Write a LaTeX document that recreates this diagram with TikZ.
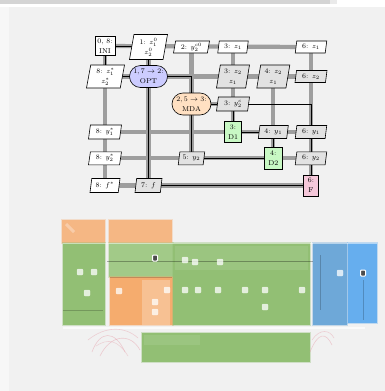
\documentclass[tikz,border=0pt]{standalone}
\usetikzlibrary{shapes.geometric,shapes.misc}
\definecolor{bgpanel}{HTML}{F1F1F1}
\definecolor{topbar}{HTML}{D4D4D4}
\definecolor{dline}{HTML}{9E9E9E}
\definecolor{dfill}{HTML}{E2E2E2}
\definecolor{optc}{HTML}{CCCCFF}
\definecolor{mdac}{HTML}{FFE0C2}
\definecolor{anc}{HTML}{C8F8C4}
\definecolor{func}{HTML}{F5C8DA}
\definecolor{bgreen}{HTML}{92BF74}
\definecolor{bgreenl}{HTML}{A2CA88}
\definecolor{borange}{HTML}{F5B784}
\definecolor{borange2}{HTML}{F5AC6E}
\definecolor{borange3}{HTML}{F7C193}
\definecolor{bblue}{HTML}{6EA8D8}
\definecolor{bblue2}{HTML}{66AEEE}
\definecolor{bpink}{HTML}{E59AA6}
\pgfdeclarelayer{bg}
\pgfdeclarelayer{lines}
\pgfsetlayers{bg,lines,main}
\begin{document}
\begin{tikzpicture}[x=1pt,y=-1pt,
  every node/.style={font=\fontsize{7}{10}\selectfont, align=center, inner sep=0.5pt},
  datain/.style={trapezium, trapezium left angle=77, trapezium right angle=103,
    trapezium stretches body, draw=black, line width=0.6pt, fill=white,
    minimum width=31pt, minimum height=12pt},
  dataout/.style={datain, fill=dfill},
  tall/.style={minimum height=23pt, minimum width=33pt},
  inibox/.style={rectangle, draw, line width=0.6pt, fill=white, minimum width=20pt, minimum height=19pt},
  optbox/.style={rounded rectangle, draw, line width=0.6pt, fill=optc, minimum width=39pt, minimum height=22pt},
  mdabox/.style={rounded rectangle, draw, line width=0.6pt, fill=mdac, minimum width=40pt, minimum height=22pt},
  anbox/.style={rectangle, draw, line width=0.6pt, fill=anc, minimum width=17.5pt, minimum height=21pt},
  fnbox/.style={rectangle, draw, line width=0.6pt, fill=func, minimum width=15pt, minimum height=21pt},
  dataline/.style={draw=dline, line width=4.2pt},
  procline/.style={draw=black, line width=1pt},
  soft/.style={line width=2pt, draw opacity=0.35},
  wsq/.style={fill=white, fill opacity=0.75, draw=white, draw opacity=0.5, rounded corners=0.8pt},
  dsq/.style={fill=black!70, draw=white, line width=1pt, rounded corners=0.8pt},
]
\useasboundingbox (0,0) rectangle (385,391);
% ---------- background ----------
\begin{pgfonlayer}{bg}
  \fill[bgpanel] (0,0) rectangle (385,391);
  \fill[white] (0,0) rectangle (385,7);
  \fill[black!3] (0,7) rectangle (9,391);
  \fill[topbar] (0,0) rectangle (330,3.7);
  \fill[topbar!50] (330,0) rectangle (337,3.7);
  % ---------- blurred lower picture ----------
  \filldraw[borange, soft] (62,220) rectangle (105,243);
  \filldraw[borange, soft] (109,220) rectangle (172,243);
  \filldraw[bgreen, soft] (63,243) rectangle (105,325);
  \filldraw[bgreenl, soft] (109,243) rectangle (173,277);
  \filldraw[borange2, soft] (110,277) rectangle (173,325);
  \fill[borange3] (142,280) rectangle (170,325);
  \filldraw[bgreen, soft] (173,243) rectangle (310,325);
  \fill[bgreenl, opacity=0.6] (175,246) rectangle (308,270);
  \filldraw[bblue, soft] (313,243) rectangle (347,325);
  \filldraw[bblue2, soft] (348,243) rectangle (377,323);
  \filldraw[bgreen, soft] (142,333) rectangle (310,362);
  \fill[bgreenl, opacity=0.6] (144,335) rectangle (200,345);
  \draw[white, opacity=0.7, line width=2pt] (63,328) -- (365,328);
  \draw[white, opacity=0.5, line width=1pt] (63,243) -- (377,243);
  \draw[black, opacity=0.3, line width=0.7pt] (107,261) -- (313,261);
  \draw[black, opacity=0.2, line width=0.5pt] (110,277) -- (172,277);
  \draw[black, opacity=0.2, line width=0.5pt] (63,310) -- (103,310);
  \draw[black, opacity=0.2, line width=0.5pt] (320,255) -- (320,310);
  \draw[black, opacity=0.2, line width=0.5pt] (363,280) -- (363,320);
  \draw[white, opacity=0.3, line width=3pt] (66,224) -- (74,232);
  \foreach \p in {(80,272),(94,272),(87,293),(119,291),(167,290),(155,302),(155,312),
                  (185,260),(195,262),(185,290),(198,290),(218,290),(245,290),(265,290),
                  (302,290),(220,262),(265,307),(340,273)}
    \filldraw[wsq] \p ++(-3,-3) rectangle ++(6,6);
  \foreach \p in {(155,258),(363,273)}
    \filldraw[dsq] \p ++(-2.5,-3) rectangle ++(5,6);
  \draw[bpink, opacity=0.45, line width=0.6pt] (92,352) .. controls (100,330) and (115,330) .. (125,352);
  \draw[bpink, opacity=0.45, line width=0.6pt] (100,356) .. controls (110,335) and (130,332) .. (140,350);
  \draw[bpink, opacity=0.4, line width=0.6pt] (88,340) .. controls (105,326) and (125,326) .. (138,338);
  \draw[bpink, opacity=0.35, line width=0.6pt] (96,346) .. controls (108,338) and (118,340) .. (128,356);
  \draw[bpink, opacity=0.45, line width=0.6pt] (310,352) .. controls (318,332) and (326,332) .. (332,345);
  \draw[bpink, opacity=0.4, line width=0.6pt] (312,340) .. controls (320,328) and (330,330) .. (334,338);
\end{pgfonlayer}
% ---------- XDSM nodes ----------
\node[inibox] (ini) at (105,46) {0, 8:\\INI};
\node[datain, tall, minimum width=38pt, minimum height=25pt] (z0) at (148.5,47) {1: $z_1^0$\\$z_2^0$};
\node[datain, minimum width=36pt] (yc0) at (191.5,47) {2: $y_2^{c0}$};
\node[datain, minimum width=30.5pt] (zi3) at (233,47) {3: $z_1$};
\node[datain, minimum width=31.5pt] (zi6) at (311,47) {6: $z_1$};
\node[datain, tall, minimum width=38pt] (zs) at (105.5,76.5) {8: $z_1^*$\\$z_2^*$};
\node[optbox] (opt) at (148.5,76.5) {$1,7\rightarrow2$:\\OPT};
\node[dataout, tall] (z3) at (233,76.5) {3: $z_2$\\$z_1$};
\node[dataout, tall] (z4) at (273.3,76.5) {4: $z_2$\\$z_1$};
\node[dataout, minimum width=32pt] (z6) at (311,76.5) {6: $z_2$};
\node[mdabox] (mda) at (191.5,104) {$2,5\rightarrow3$:\\MDA};
\node[dataout, minimum width=33pt, minimum height=14pt] (yc3) at (233,104) {3: $y_2^c$};
\node[datain, minimum width=33pt, minimum height=14pt] (y1s) at (105,132) {8: $y_1^*$};
\node[anbox] (d1) at (233,132) {3:\\D1};
\node[dataout, minimum width=30pt, minimum height=13pt] (y14) at (273.3,132) {4: $y_1$};
\node[dataout, minimum width=31.5pt, minimum height=13pt] (y16) at (311,132) {6: $y_1$};
\node[datain, minimum width=33pt, minimum height=13pt] (y2s) at (105,158.3) {8: $y_2^*$};
\node[dataout, minimum width=26.5pt, minimum height=13pt] (y25) at (191.5,158.3) {5: $y_2$};
\node[anbox, minimum height=22pt] (d2) at (273.3,158.3) {4:\\D2};
\node[dataout, minimum width=31.5pt, minimum height=13pt] (y26) at (311,158.3) {6: $y_2$};
\node[datain, minimum width=30pt, minimum height=14pt] (fs) at (105,185.5) {8: $f^*$};
\node[dataout, minimum width=27pt, minimum height=14pt] (f7) at (148.5,185.5) {7: $f$};
\node[fnbox] (F) at (311,185.5) {6:\\F};
% ---------- connectors ----------
\begin{pgfonlayer}{lines}
  % data lines
  \draw[dataline] (ini.center) -- (zi6.center);
  \draw[dataline] (zs.center) -- (z6.center);
  \draw[dataline] (mda.center) -- (yc3.center);
  \draw[dataline] (y1s.center) -- (y16.center);
  \draw[dataline] (y2s.center) -- (y26.center);
  \draw[dataline] (fs.center) -- (F.center);
  \draw[dataline] (ini.center) -- (fs.center);
  \draw[dataline] (z0.center) -- (f7.center);
  \draw[dataline] (yc0.center) -- (y25.center);
  \draw[dataline] (zi3.center) -- (d1.center);
  \draw[dataline] (z4.center) -- (d2.center);
  \draw[dataline] (zi6.center) -- (F.center);
  % process lines
  \draw[procline] (ini.center) -| (opt.center);
  \draw[procline] (opt.center) -| (mda.center);
  \draw[procline] (mda.center) -| (d1.center);
  \draw[procline] (d1.center) -| (d2.center);
  \draw[procline] (d2.center) -| (mda.center);
  \draw[procline] (mda.center) -| (F.center);
  \draw[procline] (F.center) -| (opt.center);
  \draw[procline] (opt.center) -| (ini.center);
\end{pgfonlayer}
\end{tikzpicture}
\end{document}
